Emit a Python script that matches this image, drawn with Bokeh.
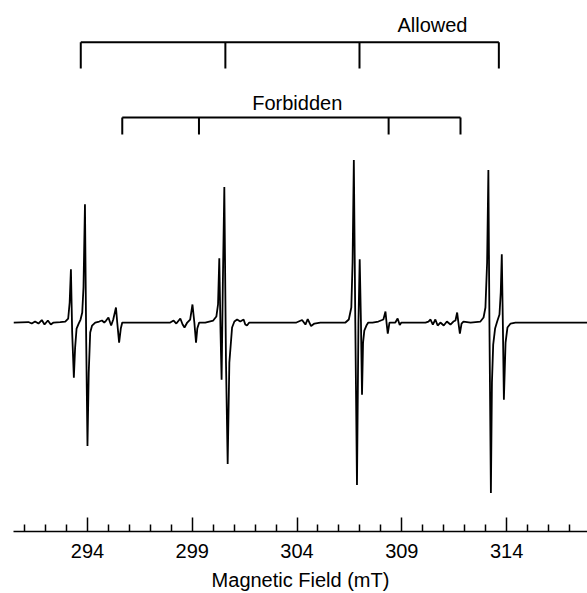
from bokeh.plotting import figure
from bokeh.models import Range1d, FixedTicker
from bokeh.core.properties import value
from bokeh.embed import file_html
from bokeh.resources import INLINE

# EPR trace (field in mT, intensity in arbitrary units)
field_mT = [
    290.47, 291.18, 291.34, 291.50, 291.66, 291.82, 291.95, 292.11, 292.25, 292.38,
    292.70, 292.94, 293.08, 293.15, 293.21, 293.27, 293.35, 293.41, 293.48, 293.58,
    293.67, 293.75, 293.81, 293.88, 293.94, 294.00, 294.06, 294.13, 294.22, 294.37,
    294.56, 294.69, 294.80, 294.89, 295.00, 295.08, 295.13, 295.23, 295.36, 295.42,
    295.51, 295.59, 295.66, 297.95, 298.11, 298.24, 298.43, 298.54, 298.63, 298.76,
    298.90, 299.01, 299.10, 299.18, 299.24, 299.33, 299.62, 300.00, 300.15, 300.23,
    300.29, 300.35, 300.40, 300.46, 300.53, 300.61, 300.69, 300.77, 300.90, 301.01,
    301.14, 301.29, 301.45, 301.53, 301.61, 301.72, 303.97, 304.24, 304.40, 304.51,
    304.67, 304.83, 305.11, 306.31, 306.47, 306.59, 306.65, 306.71, 306.78, 306.86,
    306.93, 306.99, 307.05, 307.10, 307.15, 307.21, 307.31, 307.40, 307.60, 307.88,
    308.12, 308.22, 308.27, 308.33, 308.41, 308.69, 308.80, 308.90, 308.98, 310.13,
    310.27, 310.37, 310.48, 310.60, 310.71, 310.84, 311.00, 311.15, 311.32, 311.46,
    311.56, 311.64, 311.70, 311.77, 311.85, 311.94, 312.28, 312.75, 312.90, 312.99,
    313.07, 313.13, 313.18, 313.25, 313.30, 313.36, 313.45, 313.55, 313.66, 313.72,
    313.77, 313.82, 313.87, 313.95, 314.04, 314.19, 314.42, 317.86,
]
intensity = [
    0, 0.5, -1, 1, -1, 2.5, -2, 2, -2, 0,
    0.5, 1, 4, 20, 53, -10, -55, -25, -6, -1,
    3, 10, 35, 118, -20, -123, -50, -10, -3, 0,
    1, 2, 0, 2, 5, 0, -3, 3, 15, 0,
    -20, -6, 0, 0, 2, -1, 4, -2, -5, 0,
    3, 18, 0, -20, -6, 0, 0, 2, 6, 18,
    64, -10, -57, 40, 135, -40, -141, -40, -5, 1,
    3, 1, 3, -2, -3, 0, 0, 2.5, -2, 3.5,
    -3.5, -1, 0, 0, 3, 15, 60, 162, 0, -162,
    0, 63, 0, -72, -20, -8, -3, 0, 0, 1,
    3, 11, 0, -11, 0, 0, 4, -2.5, 0, 0,
    1, 3, -2, 3, -3, 0, -3, 1, -2, 1,
    2, 10, 0, -11, -1, 1, 0, 1, 5, 15,
    60, 152, 0, -170, -60, -22, -6, 1, 8, 30,
    68, 0, -77, -20, -5, -1, 0, 0,
]

allowed_mT = [293.68, 300.58, 306.98, 313.63]
forbidden_mT = [295.66, 299.32, 308.37, 311.80]
major_ticks = [294, 299, 304, 309, 314]
minor_ticks = [291, 292, 293, 295, 296, 297, 298, 300, 301, 302, 303, 305, 306,
               307, 308, 310, 311, 312, 313, 315, 316, 317]

FONT = "Liberation Sans"

p = figure(width=587, height=593, output_backend="svg", toolbar_location=None,
           x_range=Range1d(290.47, 317.86), y_range=Range1d(-208.3, 321),
           y_axis_location=None, min_border_left=13, min_border_right=0,
           min_border_top=0, min_border_bottom=0)
p.grid.visible = False
p.outline_line_color = None
p.background_fill_color = "white"
p.border_fill_color = "white"

p.line(field_mT, intensity, line_color="black", line_width=1.8)

# Allowed bracket
a_level, a_drop = 279.3, 253.3
p.segment(x0=[allowed_mT[0]], y0=[a_level], x1=[allowed_mT[-1]], y1=[a_level],
          line_color="black", line_width=2)
p.segment(x0=allowed_mT, y0=[a_level] * len(allowed_mT), x1=allowed_mT,
          y1=[a_drop] * len(allowed_mT), line_color="black", line_width=2)
# Forbidden bracket
f_level, f_drop = 204.3, 187.5
p.segment(x0=[forbidden_mT[0]], y0=[f_level], x1=[forbidden_mT[-1]], y1=[f_level],
          line_color="black", line_width=2)
p.segment(x0=forbidden_mT, y0=[f_level] * len(forbidden_mT), x1=forbidden_mT,
          y1=[f_drop] * len(forbidden_mT), line_color="black", line_width=2)

p.text(x=[310.46], y=[296.7], text=["Allowed"], text_font=value(FONT),
       text_font_size="20px", text_align="center", text_baseline="middle",
       text_color="black")
p.text(x=[304.01], y=[219.3], text=["Forbidden"], text_font=value(FONT),
       text_font_size="20px", text_align="center", text_baseline="middle",
       text_color="black")

ax = p.xaxis[0]
ax.ticker = FixedTicker(ticks=major_ticks, minor_ticks=minor_ticks)
ax.major_tick_in = 14
ax.major_tick_out = 0
ax.minor_tick_in = 7
ax.minor_tick_out = 0
ax.axis_line_width = 1.5
ax.major_tick_line_width = 1.5
ax.minor_tick_line_width = 1.5
ax.axis_line_color = "black"
ax.major_tick_line_color = "black"
ax.minor_tick_line_color = "black"
ax.major_label_text_font = FONT
ax.major_label_text_font_size = "20px"
ax.major_label_text_color = "black"
ax.major_label_standoff = 12
ax.axis_label = "Magnetic Field (mT)"
ax.axis_label_text_font = FONT
ax.axis_label_text_font_size = "20px"
ax.axis_label_text_font_style = "normal"
ax.axis_label_text_color = "black"
ax.axis_label_standoff = 8

open("out.html", "w").write(file_html(p, INLINE))
